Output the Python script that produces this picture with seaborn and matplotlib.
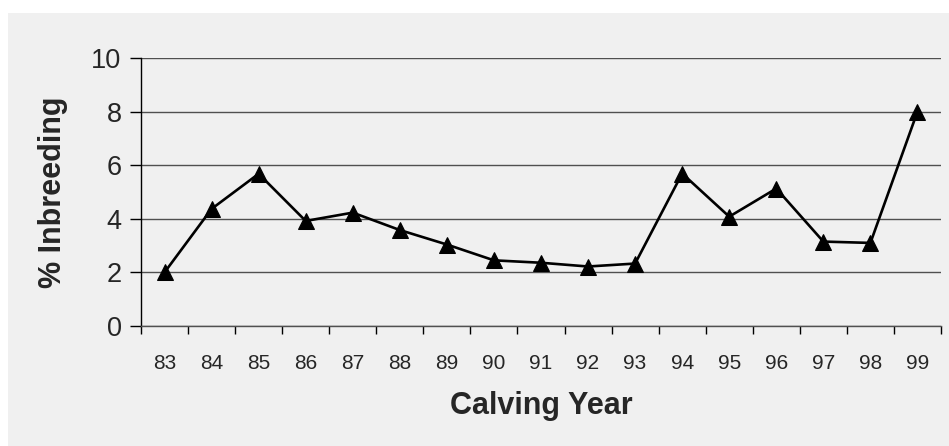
import pandas as pd
import matplotlib.pyplot as plt
import seaborn as sns
from matplotlib.patches import Rectangle

# Values
years = ["83", "84", "85", "86", "87", "88", "89", "90", "91",
         "92", "93", "94", "95", "96", "97", "98", "99"]
inbreeding = [2.0, 4.37, 5.68, 3.92, 4.23, 3.58, 3.04, 2.45, 2.36,
              2.22, 2.33, 5.69, 4.08, 5.13, 3.15, 3.10, 8.0]

df = pd.DataFrame({"year": years, "pct": inbreeding})

sns.set_theme(style="white")
plt.rcParams["font.family"] = ["Liberation Sans", "DejaVu Sans"]

fig = plt.figure(figsize=(9.49, 4.46), dpi=100, facecolor="white")
# grey panel behind the chart
fig.patches.append(Rectangle((8 / 949, 0), 1, 1 - 13 / 446, transform=fig.transFigure,
                             facecolor="#f0f0f0", edgecolor="none", zorder=-10))

ax = fig.add_axes([141 / 949, 1 - 326 / 446, 800 / 949, 268 / 446])
ax.set_facecolor("#f0f0f0")

sns.lineplot(data=df, x="year", y="pct", sort=False, color="black", linewidth=1.9,
             marker="^", markersize=11, markeredgecolor="black", ax=ax, zorder=3)

ax.set_xlim(-0.5, len(years) - 0.5)
ax.set_ylim(0, 10)
ax.set_yticks([0, 2, 4, 6, 8, 10])
ax.set_xticks(range(len(years)))
ax.set_xticklabels(years)
ax.set_xticks([i - 0.5 for i in range(len(years) + 1)], minor=True)

ax.yaxis.grid(True, color="#505050", linewidth=1)
ax.set_axisbelow(True)
for side in ["top", "right"]:
    ax.spines[side].set_visible(False)
ax.spines["left"].set_color("black")
ax.spines["left"].set_linewidth(1)
ax.spines["bottom"].set_color("#505050")
ax.spines["bottom"].set_linewidth(1)

ax.tick_params(axis="y", which="major", left=True, length=8, width=1, color="black",
               labelsize=19.5, pad=6)
ax.tick_params(axis="x", which="major", bottom=False, labelsize=15, pad=14)
ax.tick_params(axis="x", which="minor", bottom=True, length=6, width=1, color="black")

ax.set_xlabel("Calving Year", fontsize=22, fontweight="bold", va="center")
ax.set_ylabel("% Inbreeding", fontsize=22, fontweight="bold", va="center")
ax.xaxis.set_label_coords(0.5, -0.30)
ax.yaxis.set_label_coords(-0.11, 0.5)

fig.savefig("out.png", dpi=100, facecolor=fig.get_facecolor())
